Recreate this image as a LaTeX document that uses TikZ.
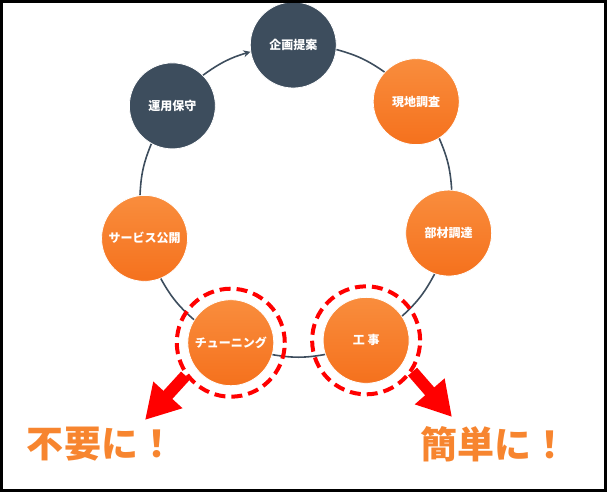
\documentclass[tikz,border=0pt]{standalone}
\usepackage{fontspec}
\newfontfamily\jpfont{Noto Sans CJK JP}
\usetikzlibrary{arrows.meta,calc}
\definecolor{darkFill}{HTML}{3D4D5D}
\definecolor{orangeTop}{HTML}{F98D3D}
\definecolor{orangeBot}{HTML}{F5711D}
\definecolor{ringWire}{HTML}{3D4D5D}
\definecolor{labelOrange}{HTML}{F7852F}
\definecolor{markRed}{HTML}{FF0000}
\newcommand{\StepSize}{86pt}
\newcommand{\MarkSize}{108pt}
\newcommand{\RingRad}{156}
\newcommand{\StepGap}{51.4286}  % 360/7
\newcommand{\EdgeOff}{97.925}   % 90 + half of the angle a node covers on the ring
\newcommand{\BendAng}{9.85}

\begin{document}
\begin{tikzpicture}[
  x=1pt, y=1pt,
  >={Stealth[length=7pt,width=7pt]},
  stepnode/.style   = {circle, draw=white, line width=0.8pt, minimum size=\StepSize,
                       inner sep=0pt, text=white,
                       font=\jpfont\bfseries\fontsize{12}{14}\selectfont},
  darkstep/.style   = {stepnode, fill=darkFill},
  orangestep/.style = {stepnode, top color=orangeTop, bottom color=orangeBot},
  ringwire/.style   = {ringWire, line width=1.6pt},
  ringarrow/.style  = {ringwire, ->},
  markring/.style   = {circle, draw=markRed, line width=4pt, dash pattern=on 11pt off 6pt,
                       minimum size=\MarkSize, inner sep=0pt},
  bigarr/.style     = {markRed, line width=12pt, -{Triangle[length=34pt,width=37pt]}},
  biglbl/.style     = {labelOrange, font=\jpfont\bfseries\fontsize{37}{42}\selectfont},
]
\useasboundingbox (0,0) rectangle (607,492);

% ----------------------------------------------------------------
% Cycle steps, evenly spaced on a ring
% ----------------------------------------------------------------
\coordinate (ctr) at (296,291);
\foreach \nm/\sty/\txt [count=\i from 0] in {%
    plan/darkstep/企画提案, survey/orangestep/現地調査, parts/orangestep/部材調達,
    work/orangestep/工 事, tune/orangestep/チューニング,
    open/orangestep/サービス公開, maint/darkstep/運用保守}{%
  \node[\sty] (\nm) at ($(ctr)+({91-\i*\StepGap}:\RingRad)$) {\txt};
}

% ----------------------------------------------------------------
% Ring connections (clockwise), border to border along the ring
% ----------------------------------------------------------------
\foreach \a/\b/\sty [count=\i from 0] in {%
    plan/survey/ringwire, survey/parts/ringwire, parts/work/ringwire,
    work/tune/ringwire, tune/open/ringwire, open/maint/ringwire,
    maint/plan/ringarrow}{%
  \pgfmathsetmacro{\outA}{91-\i*\StepGap-\EdgeOff}
  \pgfmathsetmacro{\inB}{91-(\i+1)*\StepGap+\EdgeOff}
  \draw[\sty] (\a.\outA) to[bend left=\BendAng] (\b.\inB);
}

% ----------------------------------------------------------------
% Highlight marks and arrows
% ----------------------------------------------------------------
\node[markring] (tunemark) at (tune) {};
\node[markring] (workmark) at (work) {};

\coordinate (ltip) at (145,72);
\coordinate (rtip) at (452,75);

\draw[bigarr] (tunemark.216) -- (ltip);
\draw[bigarr] (workmark.326) -- (rtip);

\node[biglbl] (nolbl)   at (101,48) {不要に！};
\node[biglbl] (easylbl) at (494,48) {簡単に！};

% ----------------------------------------------------------------
% Frame
% ----------------------------------------------------------------
\draw[line width=3pt] (1.5,1.5) rectangle (605.5,490.5);

\end{tikzpicture}
\end{document}
